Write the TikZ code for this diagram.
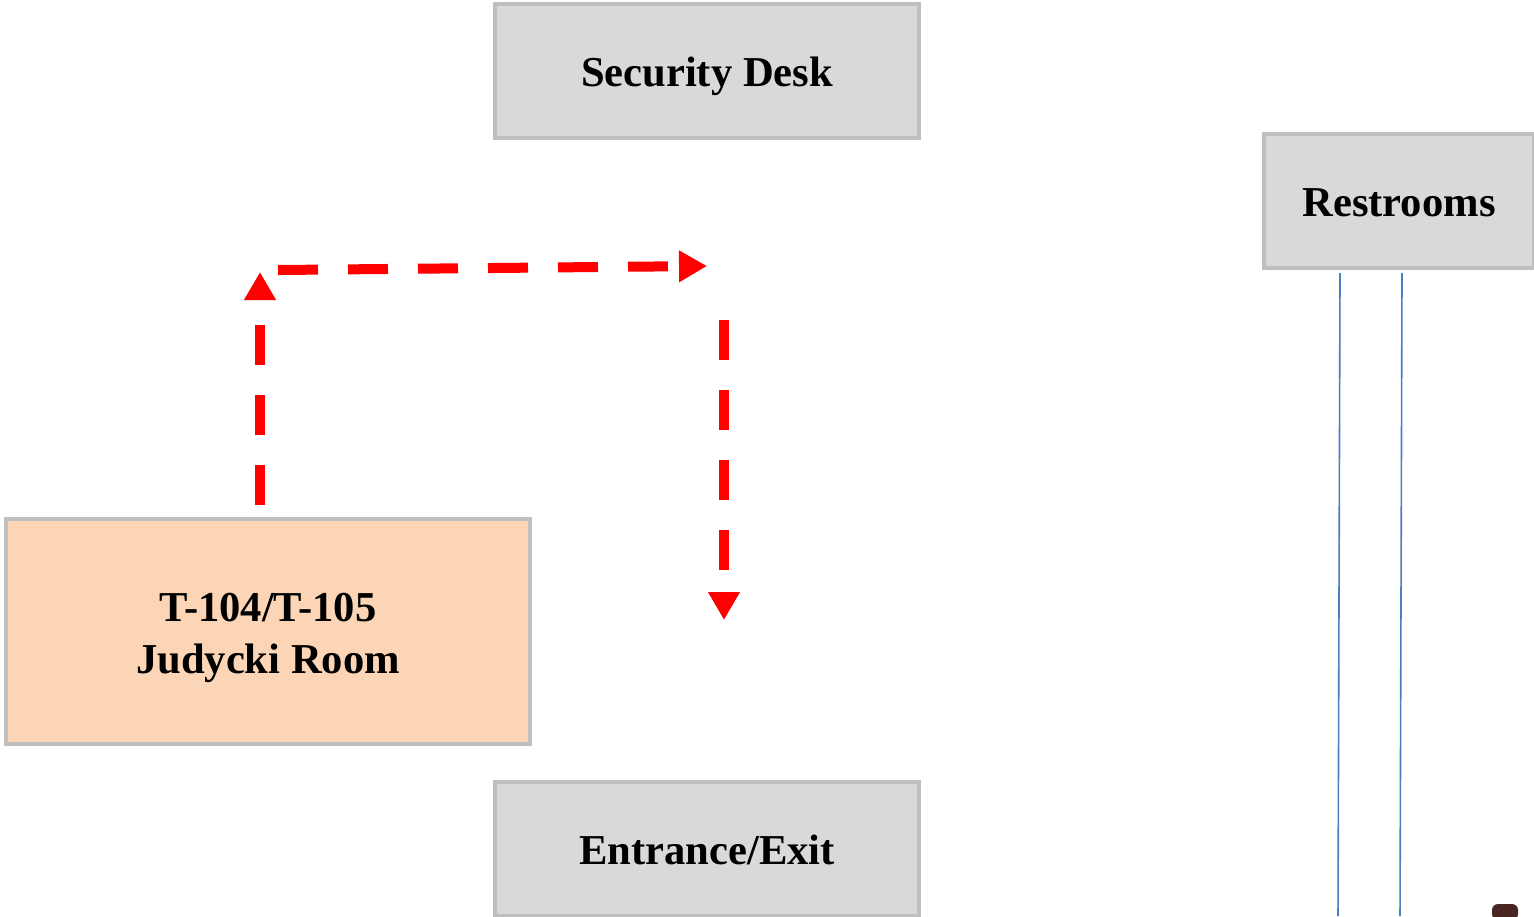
\documentclass[tikz,border=0pt]{standalone}
\usepackage{fontspec}
\setmainfont{Liberation Serif}
\usetikzlibrary{arrows.meta}
\definecolor{boxgray}{HTML}{D9D9D9}
\definecolor{boxedge}{HTML}{BFBFBF}
\definecolor{peach}{HTML}{FBD5B5}
\definecolor{routered}{HTML}{FF0000}
\definecolor{pipeblue}{HTML}{4A7EC0}
\definecolor{blob}{HTML}{4A2622}
\tikzset{
  roombox/.style={draw=boxedge, line width=2pt, fill=boxgray, inner sep=0pt,
    font=\fontsize{21.3}{26}\selectfont\bfseries, align=center,
    text height=15.6pt, text depth=0pt},
  route/.style={draw=routered, line width=5pt, dash pattern=on 20pt off 15pt,
    -{Triangle[length=14pt,width=15pt,fill=routered]}},
  pipe/.style={draw=pipeblue, line width=0.8pt},
}
\begin{document}
\begin{tikzpicture}[x=0.5pt,y=-0.5pt]
\useasboundingbox (0,0) rectangle (1534,916);
\fill[white] (0,0) rectangle (1534,916);
% boxes
\node[roombox, minimum width=212pt, minimum height=67pt] (sec) at (707,71) {Security Desk};
\node[roombox, minimum width=135pt, minimum height=67pt] (rest) at (1399,201) {Restrooms};
\node[roombox, fill=peach, minimum width=262pt, minimum height=112.5pt, text height=, text depth=] (jud) at (268,631.5) {};
\node[font=\fontsize{21.3}{26}\selectfont\bfseries, align=center, inner sep=0pt] (judtext) at ([yshift=-3pt]jud.center) {T-104/T-105\\Judycki Room};
\node[roombox, minimum width=212pt, minimum height=67pt] (ent) at (707,849) {Entrance/Exit};
% route coordinates
\coordinate (a0) at (260,505);
\coordinate (a1) at (260,272);
\coordinate (b0) at (278,270);
\coordinate (b1) at (707,266);
\coordinate (c0) at (724,320);
\coordinate (c1) at (724,620);
\draw[route] (a0) -- (a1);
\draw[route] (b0) -- (b1);
\draw[route] (c0) -- (c1);
% blue lines below restrooms
\coordinate (p1) at (1338,916);
\coordinate (p2) at (1400,916);
\draw[pipe] (1340,273) -- (p1);
\draw[pipe] (1402,273) -- (p2);
% small image fragment at bottom right
\fill[blob, rounded corners=3pt] (1492,904) rectangle (1518,920);
\end{tikzpicture}
\end{document}
